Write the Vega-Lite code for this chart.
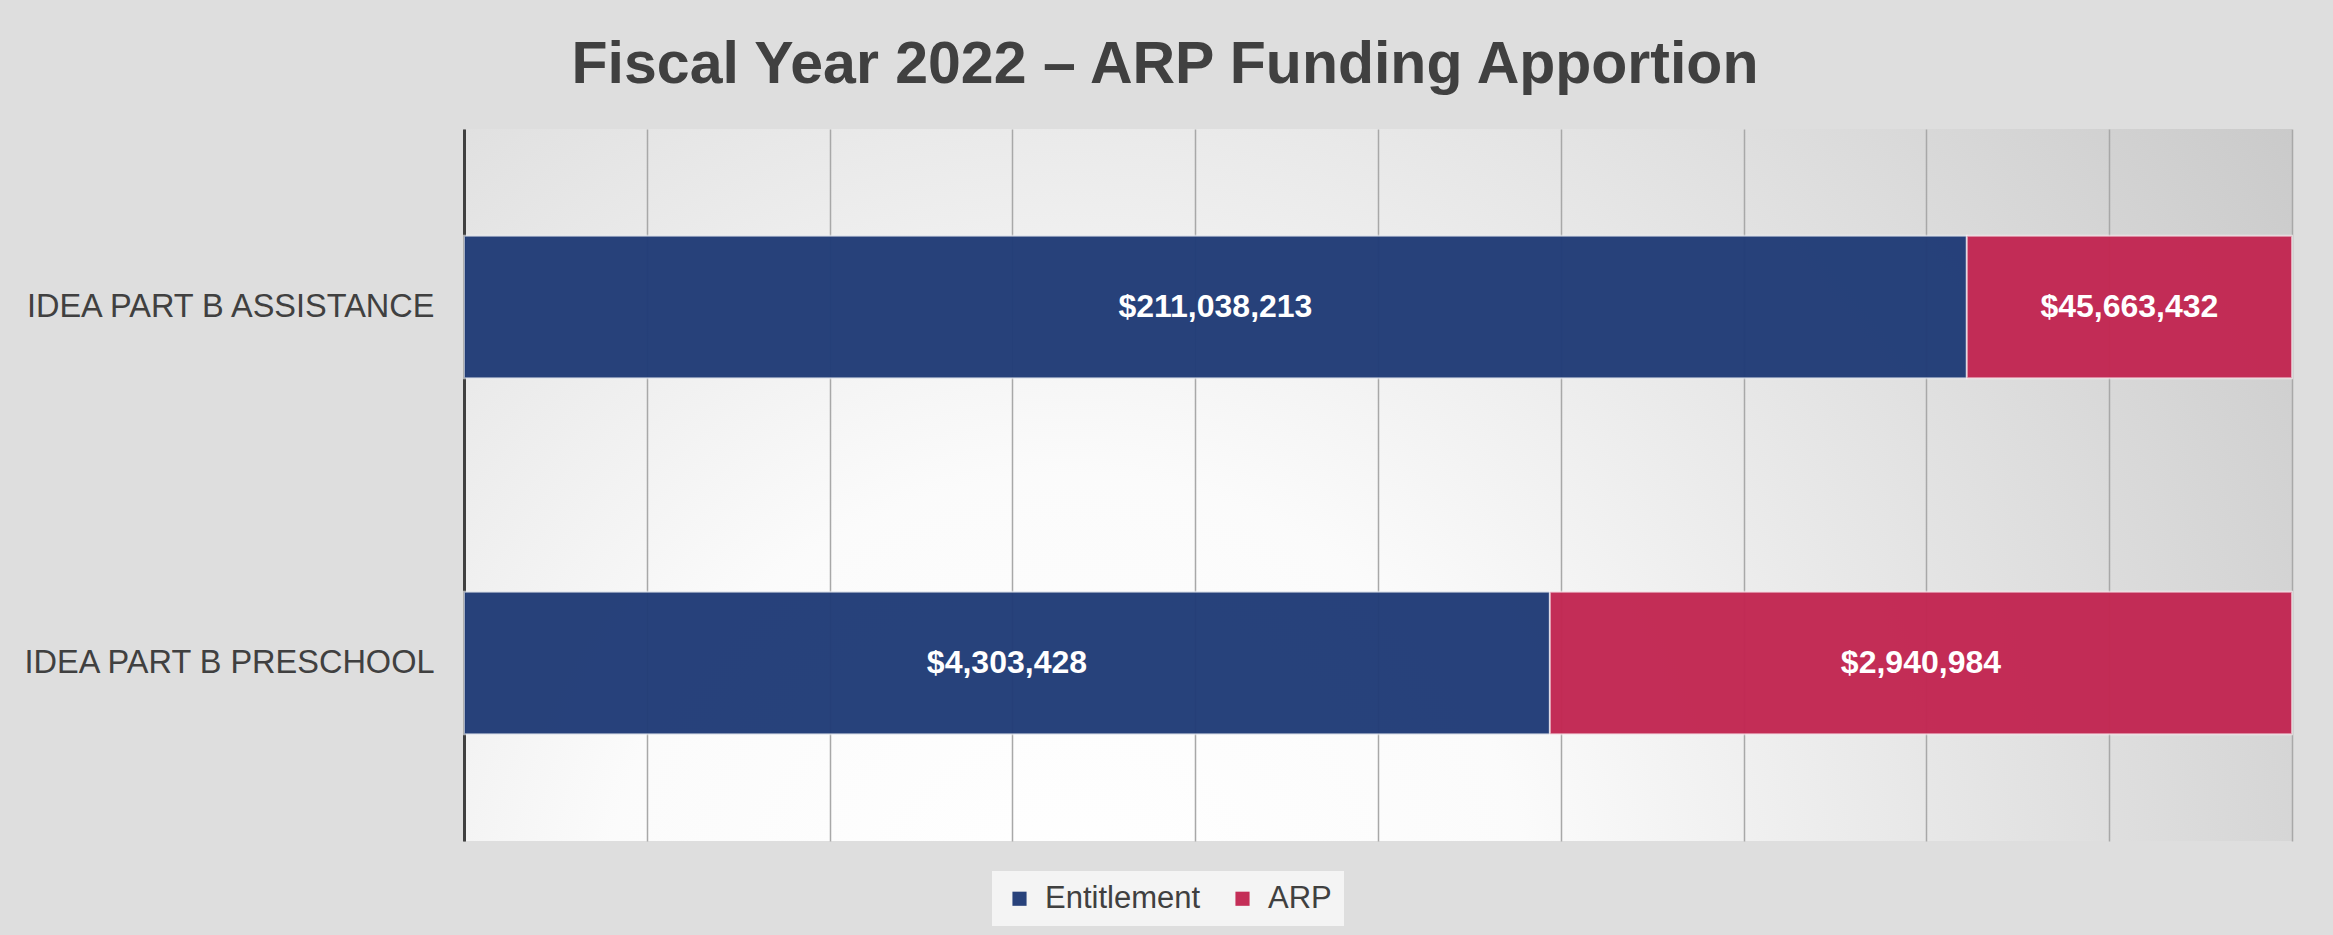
{
  "$schema": "https://vega.github.io/schema/vega-lite/v6.json",
  "autosize": "none",
  "width": 1828,
  "height": 712,
  "padding": {"left": 464, "top": 129, "right": 41, "bottom": 94},
  "background": "#dedede",
  "title": {
    "text": "Fiscal Year 2022 – ARP Funding Apportion",
    "font": "Liberation Sans",
    "fontSize": 59,
    "fontWeight": "bold",
    "color": "#404040",
    "anchor": "middle",
    "dx": -213,
    "baseline": "alphabetic",
    "offset": -13
  },
  "data": {
    "values": [
      {"program": "IDEA PART B ASSISTANCE", "series": "Entitlement", "value": 211038213},
      {"program": "IDEA PART B ASSISTANCE", "series": "ARP", "value": 45663432},
      {"program": "IDEA PART B PRESCHOOL", "series": "Entitlement", "value": 4303428},
      {"program": "IDEA PART B PRESCHOOL", "series": "ARP", "value": 2940984}
    ]
  },
  "transform": [
    {"stack": "value", "groupby": ["program"], "offset": "normalize", "sort": [{"field": "series", "order": "descending"}], "as": ["v0", "v1"]}
  ],
  "encoding": {
    "y": {
      "field": "program",
      "type": "nominal",
      "sort": null,
      "scale": {"paddingInner": 0.6, "paddingOuter": 0.3},
      "axis": {
        "title": null,
        "ticks": false,
        "labelFont": "Liberation Sans",
        "labelFontSize": 32.5,
        "labelColor": "#404040",
        "labelPadding": 30,
        "labelLimit": 600,
        "domainColor": "#404040",
        "domainWidth": 3,
        "grid": false
      }
    }
  },
  "layer": [
    {
      "mark": {"type": "bar", "opacity": 0.97, "stroke": "#ffffff", "strokeOpacity": 0.6, "strokeWidth": 2},
      "encoding": {
        "x": {
          "field": "v0",
          "type": "quantitative",
          "scale": {"domain": [0, 1], "nice": false},
          "axis": {
            "title": null,
            "labels": false,
            "ticks": false,
            "domain": false,
            "grid": true,
            "gridColor": "#a8a8a8",
            "gridWidth": 1.5,
            "values": [0, 0.1, 0.2, 0.3, 0.4, 0.5, 0.6, 0.7, 0.8, 0.9, 1]
          }
        },
        "x2": {"field": "v1"},
        "color": {
          "field": "series",
          "type": "nominal",
          "scale": {"domain": ["Entitlement", "ARP"], "range": ["#213c77", "#c22752"]},
          "legend": {
            "title": null,
            "orient": "none",
            "direction": "horizontal",
            "legendX": 528,
            "legendY": 742,
            "fillColor": "#f4f4f4",
            "padding": 12,
            "symbolType": "square",
            "symbolSize": 200,
            "symbolStrokeWidth": 0,
            "labelFont": "Liberation Sans",
            "labelFontSize": 31,
            "labelColor": "#404040",
            "labelOffset": 10,
            "columnPadding": 26
          }
        }
      }
    },
    {
      "transform": [
        {"fold": ["v0", "v1"], "as": ["edge", "pos"]},
        {"aggregate": [{"op": "mean", "field": "pos", "as": "mid"}], "groupby": ["program", "series", "value"]}
      ],
      "mark": {"type": "text", "color": "#ffffff", "font": "Liberation Sans", "fontSize": 32, "fontWeight": "bold", "align": "center", "baseline": "middle"},
      "encoding": {
        "x": {"field": "mid", "type": "quantitative"},
        "text": {"field": "value", "type": "quantitative", "format": "$,.0f"}
      }
    }
  ],
  "config": {
    "view": {
      "stroke": null,
      "fill": {
        "gradient": "radial",
        "x1": 0.33, "y1": 0.75, "r1": 0,
        "x2": 0.33, "y2": 0.75, "r2": 0.85,
        "stops": [
          {"offset": 0, "color": "#ffffff"},
          {"offset": 0.3, "color": "#fbfbfb"},
          {"offset": 1, "color": "#c6c6c6"}
        ]
      }
    }
  }
}
